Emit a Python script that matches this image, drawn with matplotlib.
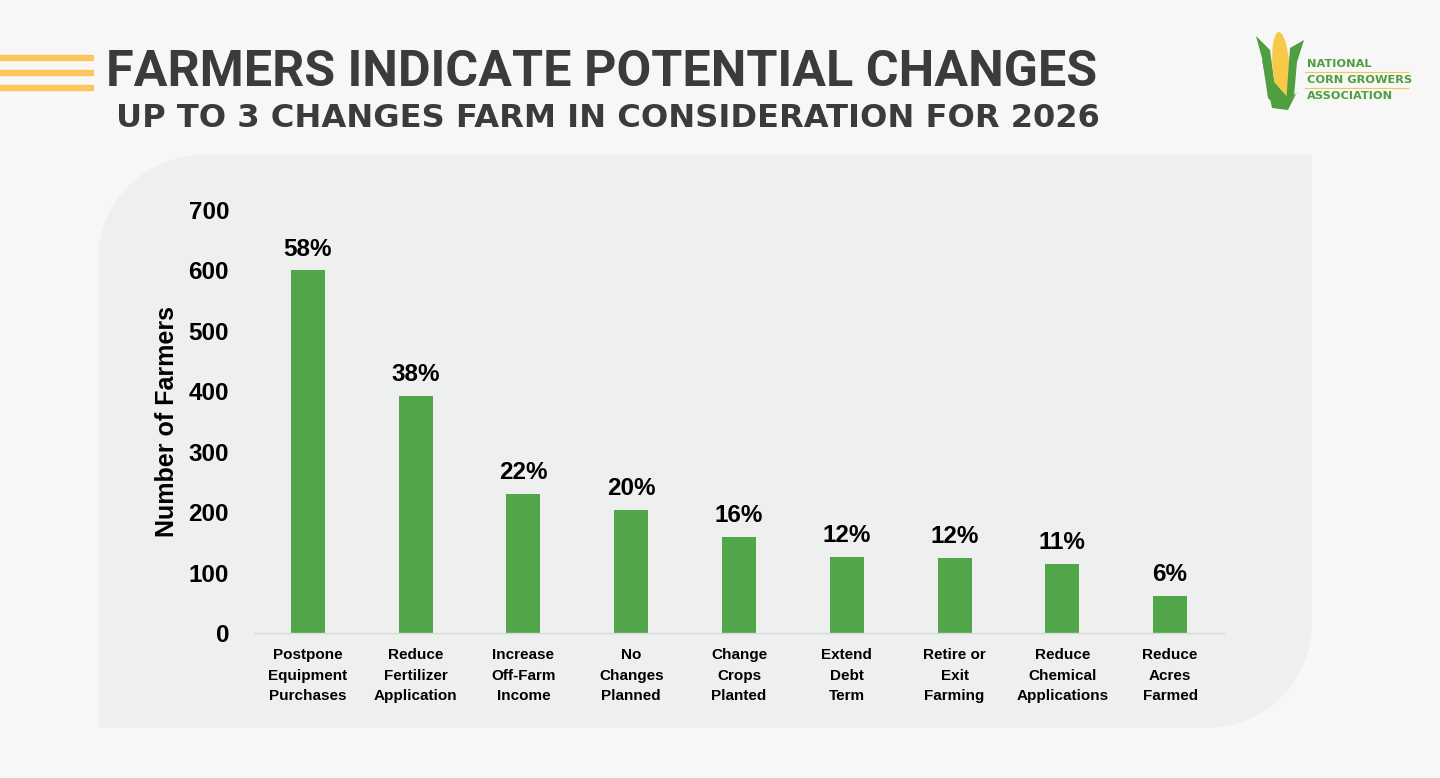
import matplotlib
matplotlib.use("Agg")
import matplotlib.pyplot as plt
from matplotlib.path import Path
from matplotlib.patches import PathPatch, Polygon, Ellipse
import numpy as np

# chart data
categories = [
    "Postpone\nEquipment\nPurchases",
    "Reduce\nFertilizer\nApplication",
    "Increase\nOff-Farm\nIncome",
    "No\nChanges\nPlanned",
    "Change\nCrops\nPlanted",
    "Extend\nDebt\nTerm",
    "Retire or\nExit\nFarming",
    "Reduce\nChemical\nApplications",
    "Reduce\nAcres\nFarmed",
]
farmers = [600, 392, 230, 204, 159, 126, 124, 114, 61]
pct_labels = ["58%", "38%", "22%", "20%", "16%", "12%", "12%", "11%", "6%"]
y_ticks = [0, 100, 200, 300, 400, 500, 600, 700]

title = "FARMERS INDICATE POTENTIAL CHANGES"
subtitle = "UP TO 3 CHANGES FARM IN CONSIDERATION FOR 2026"
logo_lines = ["NATIONAL", "CORN GROWERS", "ASSOCIATION"]

BG = "#f7f7f7"
PANEL = "#eef0ef"
GREEN = "#52a64a"
LOGO_GREEN = "#4f9e3f"
DARK = "#3b3b3b"
W, H = 1440, 778

plt.rcParams['font.family'] = ['Liberation Sans', 'DejaVu Sans']

fig = plt.figure(figsize=(W / 100, H / 100), dpi=100)
fig.patch.set_facecolor(BG)

# background axes in pixel coords (y down)
bg = fig.add_axes([0, 0, 1, 1])
bg.set_xlim(0, W)
bg.set_ylim(H, 0)
bg.axis("off")
bg.set_zorder(0)

# panel with rounded top-left / bottom-right corners
x0, x1, y0, y1, r = 98, 1312, 155, 728, 105
k = 0.5523
verts = [
    (x0, y0 + r),
    (x0, y0 + r - k * r), (x0 + r - k * r, y0), (x0 + r, y0),
    (x1, y0),
    (x1, y1 - r),
    (x1, y1 - r + k * r), (x1 - r + k * r, y1), (x1 - r, y1),
    (x0, y1),
    (x0, y0 + r),
]
codes = [Path.MOVETO, Path.CURVE4, Path.CURVE4, Path.CURVE4, Path.LINETO,
         Path.LINETO, Path.CURVE4, Path.CURVE4, Path.CURVE4, Path.LINETO, Path.CLOSEPOLY]
bg.add_patch(PathPatch(Path(verts, codes), facecolor=PANEL, edgecolor="none"))

# yellow stripes
for yy in [58, 73, 88]:
    bg.plot([0, 94], [yy, yy], color="#fcc75a", lw=4.6, solid_capstyle="butt")

# title / subtitle
t1 = bg.text(106, 72, title, fontsize=35, fontweight="bold", color=DARK,
             va="center", ha="left", family=["Roboto", "DejaVu Sans"])
t2 = bg.text(116, 118, subtitle, fontsize=21.5, fontweight="bold", color=DARK,
             va="center", ha="left", family=["DejaVu Sans"])
fig.canvas.draw()
rend = fig.canvas.get_renderer()
w = t1.get_window_extent(rend).width
t1.set_fontsize(t1.get_fontsize() * (1097 - 106) / w)
# subtitle is letter-spaced in the original; split the difference between height and width
w2 = t2.get_window_extent(rend).width
t2.set_fontsize(t2.get_fontsize() * ((1178 - 116) / w2) ** 0.5)

# logo
bg.add_patch(Polygon([(1262, 58), (1256, 36), (1270, 50), (1278, 108), (1268, 98)],
                     closed=True, facecolor=LOGO_GREEN, edgecolor="none"))
bg.add_patch(Ellipse((1281, 66), 17, 68, angle=-4, facecolor="#f7c948", edgecolor="none"))
bg.add_patch(Polygon([(1262, 60), (1274, 82), (1290, 100), (1297, 92), (1288, 110), (1272, 108)],
                     closed=True, facecolor=LOGO_GREEN, edgecolor="none"))
bg.add_patch(Polygon([(1290, 48), (1304, 40), (1297, 62), (1294, 96), (1286, 104)],
                     closed=True, facecolor=LOGO_GREEN, edgecolor="none"))
for yy, s in zip([64, 80, 96], logo_lines):
    bg.text(1307, yy, s, fontsize=8.2, fontweight="bold", color=LOGO_GREEN,
            va="center", ha="left", family=["DejaVu Sans"])
for yy in [72, 88]:
    bg.plot([1305, 1408], [yy, yy], color="#f5c94a", lw=0.8)

# main chart
ax = fig.add_axes([254 / W, (H - 633) / H, (1224 - 254) / W, (633 - 210) / H])
ax.set_zorder(1)
ax.patch.set_alpha(0)
x = np.arange(len(categories))
ax.bar(x, farmers, width=0.315, color=GREEN, zorder=2)
ax.set_xlim(-0.5, len(categories) - 0.5)
ax.set_ylim(0, 700)
ax.set_yticks(y_ticks)
ax.set_yticklabels([str(v) for v in y_ticks], fontsize=17.5, fontweight="bold")
ax.set_xticks(x)
ax.set_xticklabels(categories, fontsize=11, fontweight="bold", linespacing=1.6)
ax.tick_params(axis="y", length=0, pad=18)
ax.tick_params(axis="x", length=0, pad=11)
for s in ["top", "right", "left"]:
    ax.spines[s].set_visible(False)
ax.spines["bottom"].set_color("#d8dada")
ax.spines["bottom"].set_linewidth(1)

for xi, v, lab in zip(x, farmers, pct_labels):
    ax.annotate(lab, (xi, v), xytext=(0, 7), textcoords="offset points",
                ha="center", va="bottom", fontsize=17.5, fontweight="bold")

ax.set_ylabel("Number of Farmers", fontsize=18, fontweight="bold", labelpad=7)

fig.savefig("out.png", dpi=100, facecolor=BG)
